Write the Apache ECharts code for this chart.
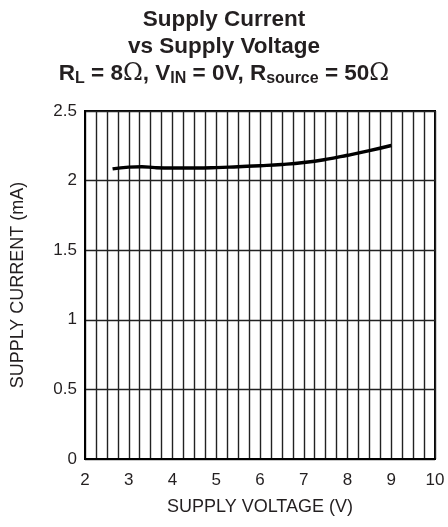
<!DOCTYPE html>
<html>
<head>
<meta charset="utf-8">
<script src="https://cdn.jsdelivr.net/npm/echarts@6/dist/echarts.min.js"></script>
<style>
html,body{margin:0;padding:0;background:#fff;}
#c{width:448px;height:527px;}
</style>
</head>
<body>
<div id="c"></div>
<script>
var voltage = [2.63, 3.0, 3.3, 3.6, 4.0, 4.5, 5.0, 5.5, 6.0, 6.5, 7.0, 7.5, 8.0, 8.5, 9.0];
var current = [2.084, 2.097, 2.100, 2.093, 2.090, 2.090, 2.093, 2.100, 2.107, 2.116, 2.130, 2.152, 2.182, 2.215, 2.252];
var xTicks = [2, 3, 4, 5, 6, 7, 8, 9, 10];
var yTicks = [0, 0.5, 1, 1.5, 2, 2.5];

var pts = voltage.map(function (v, i) { return [v, current[i]]; });
var FONT = 'Liberation Sans, Arial, sans-serif';

var chart = echarts.init(document.getElementById('c'));
chart.setOption({
  animation: false,
  backgroundColor: '#fff',
  title: {
    left: 'center',
    top: 1,
    text: '{a|Supply Current}\n{a|vs Supply Voltage}\n{a|R}{s|L}{a| = 8}{o|Ω}{a|, V}{s|IN}{a| = 0V, R}{s|source}{a| = 50}{o|Ω}',
    textStyle: {
      fontFamily: FONT,
      rich: {
        a: { fontSize: 22.5, fontWeight: 'bold', color: '#231f20', fontFamily: FONT, lineHeight: 27 },
        o: { fontSize: 24, fontWeight: 'normal', color: '#231f20', fontFamily: 'DejaVu Serif, serif', lineHeight: 27 },
        s: { fontSize: 16, fontWeight: 'bold', color: '#231f20', fontFamily: FONT, padding: [11, 0, 0, 0], lineHeight: 27 }
      }
    }
  },
  grid: {
    left: 85, right: 13, top: 111, bottom: 68,
    show: true, borderColor: '#000', borderWidth: 2, backgroundColor: 'transparent'
  },
  xAxis: {
    type: 'value',
    min: xTicks[0], max: xTicks[xTicks.length - 1], interval: 1,
    name: 'SUPPLY VOLTAGE (V)', nameLocation: 'middle', nameGap: 39,
    nameTextStyle: { fontFamily: FONT, fontSize: 18, color: '#231f20' },
    axisLine: { show: true, lineStyle: { color: '#000', width: 2 } },
    axisTick: { show: false },
    axisLabel: { fontFamily: FONT, fontSize: 17, color: '#231f20', margin: 13 },
    splitLine: { show: true, lineStyle: { color: '#222', width: 1.4 } },
    minorTick: { show: false, splitNumber: 4 },
    minorSplitLine: { show: true, lineStyle: { color: '#222', width: 1.4 } }
  },
  yAxis: {
    type: 'value',
    min: yTicks[0], max: yTicks[yTicks.length - 1], interval: 0.5,
    name: 'SUPPLY CURRENT (mA)', nameLocation: 'middle', nameGap: 58,
    nameTextStyle: { fontFamily: FONT, fontSize: 18, color: '#231f20' },
    axisLine: { show: true, lineStyle: { color: '#000', width: 2 } },
    axisTick: { show: false },
    axisLabel: { fontFamily: FONT, fontSize: 17, color: '#231f20', margin: 8 },
    splitLine: { show: true, lineStyle: { color: '#222', width: 1.4 } }
  },
  series: [{
    type: 'line',
    data: pts,
    smooth: true,
    showSymbol: false,
    lineStyle: { color: '#000', width: 3.4 }
  }]
});
</script>
</body>
</html>
